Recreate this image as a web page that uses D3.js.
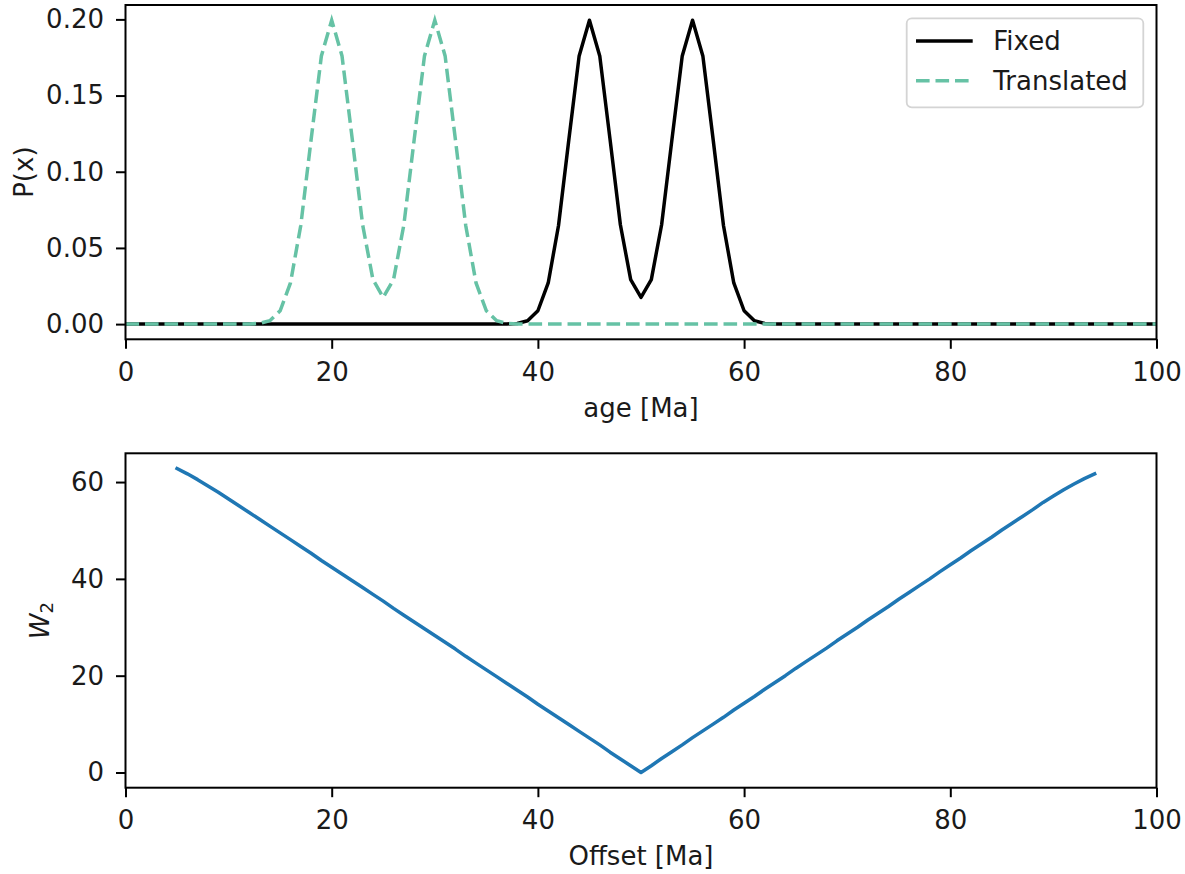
<!DOCTYPE html>
<html>
<head>
<meta charset="utf-8">
<script src="https://cdn.jsdelivr.net/npm/d3@7"></script>
<style>
    body { margin: 0; background: #fff; }
    svg text { font-family: "DejaVu Sans", sans-serif; fill: #1a1a1a; }
</style>
</head>
<body>
<svg id="chart" width="1185" height="874"></svg>
<script>
// age grid [Ma], one sample per Ma
var ages = d3.range(0, 101);

var fixed = [
    0, 0, 0, 0, 0, 0, 0, 0, 0, 0,
    0, 0, 0, 0, 0, 0, 0, 0, 0, 0,
    0, 0, 0, 0, 0, 0, 0, 0, 0, 0,
    0, 0, 0, 0, 0, 0, 0.00001, 0.00007, 0.00044, 0.00222,
    0.00876, 0.02700, 0.06476, 0.12099, 0.17603, 0.19947, 0.17604, 0.12106, 0.06520, 0.02922,
    0.01752, 0.02922, 0.06520, 0.12106, 0.17604, 0.19947, 0.17603, 0.12099, 0.06476, 0.02700,
    0.00876, 0.00222, 0.00044, 0.00007, 0.00001, 0, 0, 0, 0, 0,
    0, 0, 0, 0, 0, 0, 0, 0, 0, 0,
    0, 0, 0, 0, 0, 0, 0, 0, 0, 0,
    0, 0, 0, 0, 0, 0, 0, 0, 0, 0,
    0
];

var translated = [
    0, 0, 0, 0, 0, 0, 0, 0, 0, 0,
    0, 0.00001, 0.00007, 0.00044, 0.00222, 0.00876, 0.02700, 0.06476, 0.12099, 0.17603,
    0.19947, 0.17604, 0.12106, 0.06520, 0.02922, 0.01752, 0.02922, 0.06520, 0.12106, 0.17604,
    0.19947, 0.17603, 0.12099, 0.06476, 0.02700, 0.00876, 0.00222, 0.00044, 0.00007, 0.00001,
    0, 0, 0, 0, 0, 0, 0, 0, 0, 0,
    0, 0, 0, 0, 0, 0, 0, 0, 0, 0,
    0, 0, 0, 0, 0, 0, 0, 0, 0, 0,
    0, 0, 0, 0, 0, 0, 0, 0, 0, 0,
    0, 0, 0, 0, 0, 0, 0, 0, 0, 0,
    0, 0, 0, 0, 0, 0, 0, 0, 0, 0,
    0
];

// offsets 5..94 [Ma] and the W2 distance for each
var offsets = d3.range(5, 95);

var w2 = [
    62.8, 61.7, 60.5, 59.2, 57.9, 56.5, 55.1, 53.7, 52.3, 50.9,
    49.5, 48.1, 46.7, 45.3, 43.8, 42.4, 41.0, 39.6, 38.2, 36.8,
    35.4, 33.9, 32.5, 31.1, 29.7, 28.3, 26.9, 25.5, 24.0, 22.6,
    21.2, 19.8, 18.4, 17.0, 15.6, 14.1, 12.7, 11.3, 9.9, 8.5,
    7.1, 5.7, 4.2, 2.8, 1.4, 0,
    1.4, 2.9, 4.3, 5.7, 7.2, 8.6, 10.0, 11.4, 12.9, 14.3,
    15.7, 17.2, 18.6, 20.0, 21.5, 22.9, 24.3, 25.7, 27.2, 28.6,
    30.0, 31.5, 32.9, 34.3, 35.8, 37.2, 38.6, 40.0, 41.5, 42.9,
    44.3, 45.8, 47.2, 48.6, 50.1, 51.5, 52.9, 54.3, 55.8, 57.1,
    58.4, 59.6, 60.7, 61.7
];

var ageTicks = [0, 20, 40, 60, 80, 100],
    pTicks = [0, 0.05, 0.10, 0.15, 0.20],
    w2Ticks = [0, 20, 40, 60];

var seriesNames = ['Fixed', 'Translated'],
    seriesColors = ['#000000', '#66c2a5'];


var svg = d3.select('#chart'),
    fontSize = 26,
    left = 125.5,
    right = 1156.5;


function padded(values) {
    var ext = d3.extent(values),
        pad = (ext[1] - ext[0]) * 0.05;
    return [ext[0] - pad, ext[1] + pad];
}


function styleAxis(sel) {
    sel.select('.domain').remove();
    sel.selectAll('.tick line').attr('stroke', '#000').attr('stroke-width', 2);
    sel.selectAll('.tick text')
        .style('font-size', fontSize + 'px')
        .attr('fill', '#1a1a1a');
}


function drawAxes(g, x, y, xTicks, yTicks, yFormat) {
    var h = y.range()[0];

    g.append('g')
        .attr('transform', 'translate(0,' + h + ')')
        .call(d3.axisBottom(x).tickValues(xTicks).tickSize(9.5).tickPadding(13.5).tickFormat(d3.format('d')))
        .call(styleAxis);

    g.append('g')
        .call(d3.axisLeft(y).tickValues(yTicks).tickSize(9.5).tickPadding(12).tickFormat(yFormat))
        .call(styleAxis);

    g.append('rect')
        .attr('width', x.range()[1])
        .attr('height', h)
        .attr('fill', 'none')
        .attr('stroke', '#000')
        .attr('stroke-width', 2);
}


function xLabel(g, x, y, text) {
    g.append('text')
        .attr('x', x.range()[1] / 2)
        .attr('y', y)
        .attr('text-anchor', 'middle')
        .style('font-size', fontSize + 'px')
        .text(text);
}


// ---- top panel: P(x) against age
var top1 = 5, bottom1 = 339.3;

var x1 = d3.scaleLinear().domain([0, 100]).range([0, right - left]),
    y1 = d3.scaleLinear().domain(padded(fixed.concat(translated))).range([bottom1 - top1, 0]);

var g1 = svg.append('g').attr('transform', 'translate(' + left + ',' + top1 + ')');

g1.append('clipPath').attr('id', 'clip1')
    .append('rect').attr('width', x1.range()[1]).attr('height', y1.range()[0]);

var line1 = d3.line()
    .x(function(d, i) { return x1(ages[i]); })
    .y(function(d) { return y1(d); });

var plot1 = g1.append('g').attr('clip-path', 'url(#clip1)');

plot1.append('path')
    .datum(fixed)
    .attr('d', line1)
    .attr('fill', 'none')
    .attr('stroke', seriesColors[0])
    .attr('stroke-width', 3.5)
    .attr('stroke-linejoin', 'round');

plot1.append('path')
    .datum(translated)
    .attr('d', line1)
    .attr('fill', 'none')
    .attr('stroke', seriesColors[1])
    .attr('stroke-width', 3.5)
    .attr('stroke-dasharray', '13.6,5.9');

drawAxes(g1, x1, y1, ageTicks, pTicks, d3.format('.2f'));

// legend
var legend = g1.append('g').attr('transform', 'translate(' + (906.7 - left) + ',' + (18.3 - top1) + ')');

legend.append('rect')
    .attr('width', 236.6)
    .attr('height', 89)
    .attr('rx', 5)
    .attr('fill', '#fff')
    .attr('fill-opacity', 0.8)
    .attr('stroke', '#d4d4d4')
    .attr('stroke-width', 1.8);

var items = legend.selectAll('.item')
    .data(seriesNames)
    .enter()
    .append('g')
    .attr('class', 'item')
    .attr('transform', function(d, i) { return 'translate(0,' + (22.7 + i * 39.7) + ')'; });

items.append('line')
    .attr('x1', 9.3)
    .attr('x2', 66)
    .attr('stroke', function(d, i) { return seriesColors[i]; })
    .attr('stroke-width', 3.5)
    .attr('stroke-dasharray', function(d, i) { return i ? '13.6,5.9' : null; });

items.append('text')
    .attr('x', 86.6)
    .attr('dy', '0.36em')
    .style('font-size', fontSize + 'px')
    .text(function(d) { return d; });

xLabel(g1, x1, 417 - top1, 'age [Ma]');

g1.append('text')
    .attr('transform', 'translate(' + (33 - left) + ',' + (y1.range()[0] / 2) + ') rotate(-90)')
    .attr('text-anchor', 'middle')
    .style('font-size', fontSize + 'px')
    .text('P(x)');


// ---- bottom panel: W2 against offset
var top2 = 453.3, bottom2 = 787.7;

var x2 = d3.scaleLinear().domain([0, 100]).range([0, right - left]),
    y2 = d3.scaleLinear().domain(padded(w2)).range([bottom2 - top2, 0]);

var g2 = svg.append('g').attr('transform', 'translate(' + left + ',' + top2 + ')');

g2.append('path')
    .datum(w2)
    .attr('d', d3.line()
        .x(function(d, i) { return x2(offsets[i]); })
        .y(function(d) { return y2(d); }))
    .attr('fill', 'none')
    .attr('stroke', '#1f77b4')
    .attr('stroke-width', 3.5)
    .attr('stroke-linejoin', 'round')
    .attr('stroke-linecap', 'square');

drawAxes(g2, x2, y2, ageTicks, w2Ticks, d3.format('d'));

xLabel(g2, x2, 865 - top2, 'Offset [Ma]');

var w2Label = g2.append('text')
    .attr('transform', 'translate(' + (49 - left) + ',' + (y2.range()[0] / 2) + ') rotate(-90)')
    .attr('text-anchor', 'middle')
    .style('font-size', fontSize + 'px');

w2Label.append('tspan').style('font-style', 'italic').text('W');
w2Label.append('tspan')
    .attr('dy', '0.22em')
    .style('font-size', (fontSize * 0.7) + 'px')
    .text('2');
</script>
</body>
</html>
